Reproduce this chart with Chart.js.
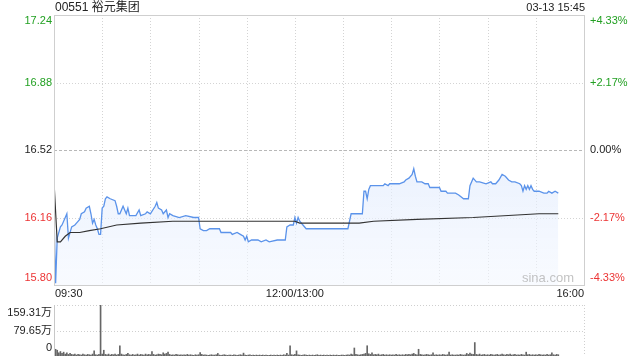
<!DOCTYPE html>
<html><head><meta charset="utf-8">
<script src="https://cdn.jsdelivr.net/npm/chart.js@4/dist/chart.umd.min.js"></script>
<style>
html,body{margin:0;padding:0;background:#fff;width:640px;height:360px;overflow:hidden}
#wrap{position:relative;width:640px;height:360px}
canvas{position:absolute;left:0}
#main{top:0}
#vol{top:300px}
</style></head><body>
<div id="wrap"><canvas id="main" width="640" height="300"></canvas><canvas id="vol" width="640" height="60"></canvas></div>
<script>
// ---- data ----
const title = "00551 裕元集团";
const stamp = "03-13 15:45";
const prevClose = 16.52;
const priceTicks = [17.24, 16.88, 16.52, 16.16, 15.80];
const pctTicks = ["+4.33%", "+2.17%", "0.00%", "-2.17%", "-4.33%"];
const timeLabels = ["09:30", "12:00/13:00", "16:00"];
const timeLabelMinutes = [0, 150, 330];
const volTicks = [159.31, 79.65, 0];
const volTickLabels = ["159.31万", "79.65万", "0"];

// minute index since 09:30 (lunch break removed), price
const priceMin = [0,1,2,4,5,7,8,9,11,13,14,16,17,19,20,22,23,24,25,26,27,28,29,30,31,32,33,35,38,39,40,41,43,45,46,47,51,53,54,57,58,60,63,64,65,67,68,70,71,72,74,78,82,87,90,91,93,95,97,103,104,107,110,111,114,116,118,119,120,121,123,125,127,129,132,134,139,144,145,147,149,150,151,152,153,155,157,159,161,165,170,175,178,183,185,186,189,192,193,194,195,196,197,199,205,206,208,209,211,214,215,218,219,221,223,224,225,226,229,231,233,234,235,238,240,241,244,245,250,252,255,258,259,261,263,265,269,272,273,275,277,279,281,283,285,287,290,291,292,293,294,295,296,297,298,299,302,305,307,308,310,312,314];
const priceVal = [16.18,15.81,16.05,16.11,16.12,16.16,16.18,16.05,16.11,16.12,16.13,16.15,16.18,16.19,16.21,16.22,16.18,16.13,16.15,16.12,16.10,16.07,16.07,16.21,16.22,16.26,16.27,16.26,16.25,16.22,16.18,16.18,16.22,16.18,16.21,16.17,16.17,16.20,16.17,16.18,16.19,16.18,16.22,16.24,16.21,16.20,16.18,16.20,16.16,16.18,16.17,16.16,16.17,16.16,16.16,16.10,16.09,16.09,16.10,16.10,16.08,16.08,16.08,16.07,16.08,16.07,16.06,16.04,16.06,16.03,16.04,16.04,16.04,16.03,16.04,16.03,16.04,16.04,16.11,16.12,16.12,16.16,16.13,16.16,16.14,16.12,16.10,16.10,16.10,16.10,16.10,16.10,16.10,16.10,16.18,16.18,16.18,16.18,16.30,16.30,16.26,16.31,16.33,16.33,16.33,16.34,16.33,16.34,16.34,16.34,16.34,16.35,16.36,16.37,16.39,16.42,16.38,16.35,16.35,16.34,16.34,16.32,16.32,16.32,16.32,16.30,16.30,16.29,16.29,16.28,16.26,16.26,16.33,16.37,16.35,16.35,16.34,16.35,16.34,16.34,16.36,16.39,16.38,16.36,16.35,16.35,16.34,16.33,16.30,16.33,16.31,16.33,16.31,16.33,16.31,16.30,16.30,16.29,16.29,16.30,16.29,16.30,16.29];

// average price line
const avgMin = [0,2,4,7,10,16,22,29,39,54,74,91,103,150,153,183,190,199,226,261,302,314];
const avgVal = [16.35,16.03,16.03,16.06,16.08,16.08,16.09,16.10,16.12,16.13,16.14,16.14,16.14,16.14,16.13,16.13,16.13,16.14,16.15,16.16,16.18,16.18];

// volume per minute (万股)
const volume = [
24,21,18,10,14,8,12,6,10,5,
8,5,4,6,3,5,4,3,6,4,
3,5,4,3,6,16,4,3,5,159.31,
6,18,5,4,6,3,5,4,6,3,
5,32,6,4,3,5,8,4,3,5,
3,4,6,3,5,4,3,6,4,5,
4,14,5,3,4,6,5,4,10,6,
8,12,5,3,4,3,5,4,3,4,
3,4,3,5,3,4,3,2,4,3,
4,11,5,3,4,3,2,3,4,3,
3,4,8,3,2,3,4,3,2,3,
3,2,4,3,2,3,4,3,9,3,
2,3,4,2,3,2,3,2,3,2,
3,2,3,2,2,3,2,3,2,3,
2,3,2,4,3,8,3,32,4,3,
5,16,4,3,2,3,4,3,2,3,
2,3,2,3,4,2,3,2,3,2,
3,2,3,2,3,2,3,2,2,3,
3,2,3,4,3,6,4,25,5,4,
3,4,5,6,8,32,7,5,10,4,
5,4,6,3,4,5,3,4,3,4,
3,4,3,5,3,4,3,4,3,5,
4,5,4,6,8,5,4,21,5,4,
3,4,5,4,3,4,10,3,4,3,
4,3,5,4,3,4,12,3,4,3,
3,4,3,5,4,3,4,8,5,9,
6,5,42,5,4,6,3,4,5,3,
4,3,5,4,3,4,5,3,4,6,
4,3,5,4,6,3,4,5,3,4,
3,5,4,3,12,4,5,3,4,3,
4,3,5,4,3,4,3,5,3,4,
10,4,3,5,4];

// ---- styles ----
const FONT = '"Liberation Sans", Arial, "Noto Sans CJK SC", sans-serif';
const GREEN = 'rgb(34,160,34)';
const RED = 'rgb(236,52,52)';
const DARK = '#222';
const tickColors = [GREEN, GREEN, DARK, RED, RED];

function dotted(ctx, x1, y1, x2, y2, color, dash){
  ctx.save();
  ctx.strokeStyle = color; ctx.lineWidth = 1; ctx.setLineDash(dash);
  ctx.beginPath(); ctx.moveTo(x1, y1); ctx.lineTo(x2, y2); ctx.stroke();
  ctx.restore();
}

const mainDecor = {
  id: 'mainDecor',
  beforeDatasetsDraw(chart){
    const {ctx, chartArea:a, scales:{x, y}} = chart;
    for (let m = 30; m < 330; m += 30){
      const px = Math.round(x.getPixelForValue(m)) + 0.5;
      dotted(ctx, px, a.top, px, a.bottom, '#d4d4d4', [1,2]);
    }
    priceTicks.forEach((v, i) => {
      if (i === 0 || i === priceTicks.length - 1) return;
      const py = Math.round(y.getPixelForValue(v)) + 0.5;
      if (v === prevClose) dotted(ctx, a.left, py, a.right, py, '#b8b8b8', [3,2]);
      else dotted(ctx, a.left, py, a.right, py, '#d4d4d4', [1,2]);
    });
  },
  afterDraw(chart){
    const {ctx, chartArea:a, scales:{x, y}} = chart;
    ctx.save();
    ctx.strokeStyle = '#cfcfcf'; ctx.lineWidth = 1; ctx.setLineDash([]);
    ctx.strokeRect(Math.round(a.left)+0.5, Math.round(a.top)+0.5, Math.round(a.right-a.left), Math.round(a.bottom-a.top));
    // watermark
    ctx.font = '13px ' + FONT; ctx.fillStyle = 'rgba(175,175,175,0.75)';
    ctx.textAlign = 'right'; ctx.textBaseline = 'middle';
    ctx.fillText('sina.com', a.right - 10, a.bottom - 7);
    // title & stamp
    ctx.fillStyle = '#222'; ctx.textBaseline = 'middle';
    ctx.font = '12px ' + FONT; ctx.textAlign = 'left';
    ctx.fillText(title, a.left + 1, 8);
    ctx.font = '11px ' + FONT; ctx.textAlign = 'right';
    ctx.fillText(stamp, a.right + 1, 8);
    // y labels
    ctx.font = '11px ' + FONT;
    priceTicks.forEach((v, i) => {
      let py = y.getPixelForValue(v);
      if (i === 0) py += 6;
      if (i === priceTicks.length - 1) py -= 7;
      ctx.fillStyle = tickColors[i];
      ctx.textAlign = 'right'; ctx.fillText(v.toFixed(2), a.left - 2, py);
      ctx.textAlign = 'left'; ctx.fillText(pctTicks[i], a.right + 6, py);
    });
    // x labels
    ctx.fillStyle = '#222';
    timeLabels.forEach((t, i) => {
      const px = x.getPixelForValue(timeLabelMinutes[i]);
      ctx.textAlign = i === 0 ? 'left' : (i === timeLabels.length - 1 ? 'right' : 'center');
      ctx.fillText(t, px + (i === 0 ? 1 : 0), a.bottom + 9);
    });
    ctx.restore();
  }
};

const volDecor = {
  id: 'volDecor',
  beforeDatasetsDraw(chart){
    const {ctx, chartArea:a, scales:{y}} = chart;
    volTicks.forEach(v => {
      if (v === 0) return;
      const py = Math.round(y.getPixelForValue(v)) + 0.5;
      dotted(ctx, a.left, py, a.right, py, '#cfcfcf', [1,2]);
    });
    const rx = Math.round(a.right) + 0.5;
    dotted(ctx, rx, a.top, rx, a.bottom, '#cfcfcf', [1,2]);
  },
  afterDraw(chart){
    const {ctx, chartArea:a, scales:{y}} = chart;
    ctx.save();
    ctx.strokeStyle = '#c8c8c8'; ctx.lineWidth = 1;
    const lx = Math.round(a.left) + 0.5;
    ctx.beginPath(); ctx.moveTo(lx, a.top); ctx.lineTo(lx, a.bottom); ctx.stroke();
    ctx.font = '11px ' + FONT; ctx.fillStyle = '#222';
    ctx.textAlign = 'right'; ctx.textBaseline = 'middle';
    volTicks.forEach((v, i) => {
      let py = y.getPixelForValue(v);
      if (i === 0) py += 8;
      if (i === volTicks.length - 1) py -= 8;
      ctx.fillText(volTickLabels[i], a.left - 2, py);
    });
    ctx.restore();
  }
};

const pricePts = priceMin.map((m, i) => ({x: m, y: priceVal[i]}));
const avgPts = avgMin.map((m, i) => ({x: m, y: avgVal[i]}));
const volPts = volume.map((v, i) => ({x: i, y: v}));

new Chart(document.getElementById('main'), {
  type: 'line',
  data: { datasets: [
    { data: avgPts, borderColor: '#333', borderWidth: 1.2, pointRadius: 0, fill: false, tension: 0, order: 0 },
    { data: pricePts, borderColor: '#5b93ea', borderWidth: 1.3, pointRadius: 0, tension: 0, order: 1,
      fill: 'start',
      backgroundColor: (c) => {
        const a = c.chart.chartArea;
        if (!a) return 'rgba(225,236,252,0.6)';
        const g = c.chart.ctx.createLinearGradient(0, a.top, 0, a.bottom);
        g.addColorStop(0, 'rgba(200,218,250,0.7)');
        g.addColorStop(1, 'rgba(244,248,255,0.6)');
        return g;
      } }
  ]},
  options: {
    responsive: false, animation: false, events: [],
    layout: { padding: { left: 54, right: 56, top: 15, bottom: 15 } },
    plugins: { legend: { display: false }, tooltip: { enabled: false } },
    scales: {
      x: { type: 'linear', min: 0, max: 330, display: false },
      y: { type: 'linear', min: priceTicks[priceTicks.length-1], max: priceTicks[0], display: false }
    }
  },
  plugins: [mainDecor]
});

new Chart(document.getElementById('vol'), {
  type: 'bar',
  data: { datasets: [
    { data: volPts, backgroundColor: '#666', barThickness: 1, borderWidth: 0 }
  ]},
  options: {
    responsive: false, animation: false, events: [],
    layout: { padding: { left: 54, right: 56, top: 5, bottom: 4 } },
    plugins: { legend: { display: false }, tooltip: { enabled: false } },
    scales: {
      x: { type: 'linear', min: 0, max: 330, offset: false, display: false },
      y: { min: 0, max: volTicks[0], display: false }
    }
  },
  plugins: [volDecor]
});
</script>
</body></html>
